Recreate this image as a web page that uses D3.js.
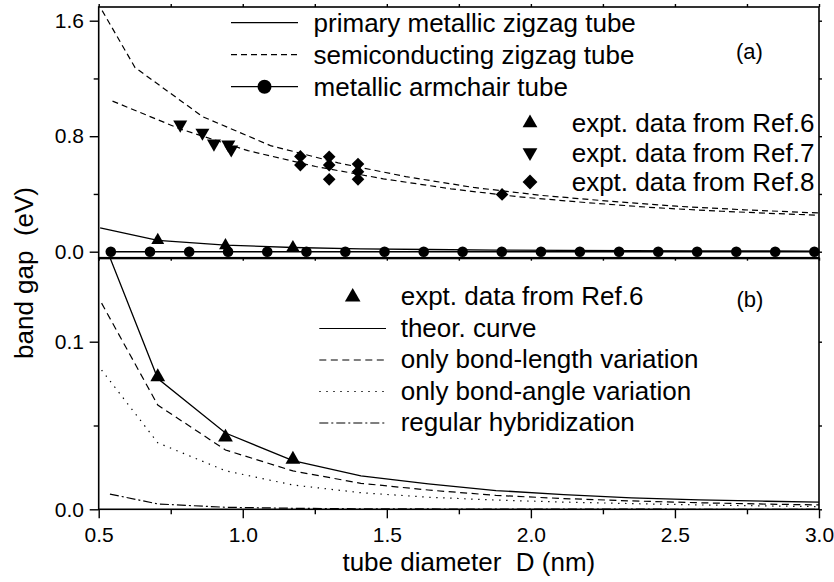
<!DOCTYPE html>
<html>
<head>
<meta charset="utf-8">
<script src="https://cdn.jsdelivr.net/npm/d3@7"></script>
<style>
  body { margin: 0; background: #fff; }
  text { font-family: "Liberation Sans", Arial, Helvetica, sans-serif; fill: #000; }
</style>
</head>
<body>
<script>
// ---- data ----
// (a) metallic armchair tubes, gap = 0
const armchairD = [0.542, 0.678, 0.814, 0.949, 1.085, 1.221, 1.356, 1.492, 1.628, 1.763,
                   1.899, 2.035, 2.170, 2.306, 2.442, 2.577, 2.713, 2.848, 2.984];
const armchairGap = [0, 0, 0, 0, 0, 0, 0, 0, 0, 0, 0, 0, 0, 0, 0, 0, 0, 0, 0];

// (a) semiconducting zigzag tubes, two branches
const semiUpD   = [0.512, 0.626, 0.861, 1.096, 1.331, 1.566, 1.801, 2.036, 2.271, 2.506, 2.741, 3.0];
const semiUpGap = [1.67, 1.276, 0.935, 0.735, 0.615, 0.52, 0.445, 0.39, 0.35, 0.315, 0.29, 0.268];
const semiLowD   = [0.548, 0.783, 1.018, 1.253, 1.488, 1.723, 1.958, 2.193, 2.428, 2.663, 2.898, 3.0];
const semiLowGap = [1.043, 0.85, 0.70, 0.59, 0.505, 0.435, 0.38, 0.34, 0.305, 0.28, 0.26, 0.253];

// experiments
const ref6D   = [0.705, 0.94, 1.174];
const ref6Gap = [0.079, 0.043, 0.0298];
const ref7D   = [0.783, 0.86, 0.90, 0.95, 0.96];
const ref7Gap = [0.88, 0.824, 0.749, 0.742, 0.708];
const ref8D   = [1.2, 1.2, 1.3, 1.3, 1.3, 1.4, 1.4, 1.4, 1.9];
const ref8Gap = [0.66, 0.60, 0.658, 0.60, 0.501, 0.607, 0.554, 0.501, 0.397];

// primary metallic zigzag tubes (theor. curve) and its variants
const theorD   = [0.505, 0.705, 0.94, 1.174, 1.41, 1.644, 1.879, 2.114, 2.349, 2.584, 2.818, 3.0];
const theorGap = [0.165, 0.078, 0.0455, 0.029, 0.0199, 0.0152, 0.0112, 0.0087, 0.0068, 0.0056, 0.0048, 0.0043];
const lengthD   = [0.51, 0.705, 0.94, 1.174, 1.41, 1.644, 1.879, 2.114, 2.349, 2.584, 2.818, 3.0];
const lengthGap = [0.123, 0.0622, 0.0354, 0.0229, 0.0155, 0.0115, 0.0083, 0.0064, 0.005, 0.0039, 0.0031, 0.0026];
const angleD   = [0.51, 0.705, 0.94, 1.174, 1.41, 1.644, 1.879, 2.114, 2.349, 2.584, 2.818, 3.0];
const angleGap = [0.0831, 0.0397, 0.023, 0.0145, 0.0099, 0.0072, 0.0055, 0.0043, 0.0034, 0.0026, 0.002, 0.0016];
const hybD   = [0.539, 0.705, 0.94, 1.174, 1.41, 1.644, 1.879, 2.114, 2.349, 2.584, 2.818, 3.0];
const hybGap = [0.0091, 0.0032, 0.0012, 0.0006, 0.0003, 0.0002, 0.0001, 0.0001, 0.0001, 0, 0, 0];

// ticks
const xTicks = [0.5, 1.0, 1.5, 2.0, 2.5, 3.0];
const xMinor = [0.75, 1.25, 1.75, 2.25, 2.75];
const yTopTicks = [0.0, 0.8, 1.6];
const yTopMinor = [0.4, 1.2];
const yBotTicks = [0.0, 0.1];
const yBotMinor = [0.05];

const legendA1 = ["primary metallic zigzag tube", "semiconducting zigzag tube", "metallic armchair tube"];
const legendA2 = ["expt. data from Ref.6", "expt. data from Ref.7", "expt. data from Ref.8"];
const legendB = ["expt. data from Ref.6", "theor. curve", "only bond-length variation",
                 "only bond-angle variation", "regular hybridization"];

const zip = (xs, ys) => xs.map((d, i) => ({ x: d, y: ys[i] }));

// ---- layout ----
const W = 834, H = 582;
const left = 98.7, right = 819;
const topA = 7, botA = 257.7, botB = 509.3;

const svg = d3.select("body").append("svg")
    .attr("width", W)
    .attr("height", H);

const x = d3.scaleLinear().domain([0.5, 3.0]).range([left, right]);
const yA = d3.scaleLinear().domain([0, 1.6]).range([251.7, 20.7]);
const yB = d3.scaleLinear().domain([0, 0.1]).range([botB, 341.7]);

// clip regions
const defs = svg.append("defs");
defs.append("clipPath").attr("id", "clipA")
  .append("rect").attr("x", left).attr("y", topA).attr("width", right - left).attr("height", botA - topA);
defs.append("clipPath").attr("id", "clipB")
  .append("rect").attr("x", left).attr("y", botA).attr("width", right - left).attr("height", botB - botA);

function drawLine(g, data, yScale, dash, width) {
  const line = d3.line().x(d => x(d.x)).y(d => yScale(d.y));
  g.append("path")
    .datum(data)
    .attr("d", line)
    .attr("fill", "none")
    .attr("stroke", "#000")
    .attr("stroke-width", width || 1.2)
    .attr("stroke-dasharray", dash || null);
}

const tri = s => d3.symbol().type(d3.symbolTriangle).size(s)();
const diamond = s => d3.symbol().type(d3.symbolSquare).size(s)();

function drawMarkers(g, data, yScale, path, rot) {
  g.selectAll(null)
    .data(data)
    .enter()
    .append("path")
    .attr("d", path)
    .attr("transform", d => "translate(" + x(d.x) + "," + yScale(d.y) + ") rotate(" + rot + ")")
    .attr("fill", "#000");
}

// ---- panel (a) ----
const gA = svg.append("g");
const linesA = gA.append("g").attr("clip-path", "url(#clipA)");
drawLine(linesA, zip(semiUpD, semiUpGap), yA, "6,4");
drawLine(linesA, zip(semiLowD, semiLowGap), yA, "6,4");
drawLine(linesA, zip(theorD, theorGap), yA, null, 1.3);
drawLine(linesA, zip(armchairD, armchairGap), yA, null, 1.5);

gA.selectAll("circle.arm")
  .data(zip(armchairD, armchairGap))
  .enter()
  .append("circle")
  .attr("cx", d => x(d.x))
  .attr("cy", d => yA(d.y))
  .attr("r", 5.3)
  .attr("fill", "#000");
drawMarkers(gA, zip(ref6D, ref6Gap), yA, tri(72), 0);
drawMarkers(gA, zip(ref7D, ref7Gap), yA, tri(85), 180);
drawMarkers(gA, zip(ref8D, ref8Gap), yA, diamond(80), 45);

// ---- panel (b) ----
const gB = svg.append("g");
const linesB = gB.append("g").attr("clip-path", "url(#clipB)");
drawLine(linesB, zip(theorD, theorGap), yB, null, 1.3);
drawLine(linesB, zip(lengthD, lengthGap), yB, "7,4.5");
drawLine(linesB, zip(angleD, angleGap), yB, "1.4,5.6");
drawLine(linesB, zip(hybD, hybGap), yB, "9,3,2,3");
drawMarkers(gB, zip(ref6D, ref6Gap), yB, tri(95), 0);

// ---- frames ----
svg.append("rect").attr("x", left).attr("y", topA).attr("width", right - left).attr("height", botA - topA)
  .attr("fill", "none").attr("stroke", "#000").attr("stroke-width", 1.6);
svg.append("rect").attr("x", left).attr("y", botA + 0.8).attr("width", right - left).attr("height", botB - botA - 0.8)
  .attr("fill", "none").attr("stroke", "#000").attr("stroke-width", 1.6);

// ---- axes ----
function styleAxis(g) {
  g.select(".domain").remove();
  g.selectAll("line").attr("stroke-width", 1.4);
  g.selectAll("text").attr("font-size", 21);
}

const fmt = d3.format(".1f");

svg.append("g").attr("transform", "translate(" + left + ",0)")
  .call(d3.axisLeft(yA).tickValues(yTopTicks).tickSize(9).tickPadding(5.7).tickFormat(fmt)).call(styleAxis);
svg.append("g").attr("transform", "translate(" + left + ",0)")
  .call(d3.axisLeft(yA).tickValues(yTopMinor).tickSize(5).tickFormat("")).call(styleAxis);
svg.append("g").attr("transform", "translate(" + right + ",0)")
  .call(d3.axisRight(yA).tickValues(yTopTicks.concat(yTopMinor)).tickSize(3).tickFormat("")).call(styleAxis);

svg.append("g").attr("transform", "translate(" + left + ",0)")
  .call(d3.axisLeft(yB).tickValues(yBotTicks).tickSize(9).tickPadding(5.7).tickFormat(fmt)).call(styleAxis);
svg.append("g").attr("transform", "translate(" + left + ",0)")
  .call(d3.axisLeft(yB).tickValues(yBotMinor).tickSize(5).tickFormat("")).call(styleAxis);
svg.append("g").attr("transform", "translate(" + right + ",0)")
  .call(d3.axisRight(yB).tickValues(yBotTicks.concat(yBotMinor)).tickSize(3).tickFormat("")).call(styleAxis);

svg.append("g").attr("transform", "translate(0," + botB + ")")
  .call(d3.axisBottom(x).tickValues(xTicks).tickSize(9).tickPadding(8.8).tickFormat(fmt)).call(styleAxis);
svg.append("g").attr("transform", "translate(0," + botB + ")")
  .call(d3.axisBottom(x).tickValues(xMinor).tickSize(5).tickFormat("")).call(styleAxis);
svg.append("g").attr("transform", "translate(0," + topA + ")")
  .call(d3.axisTop(x).tickValues(xTicks.concat(xMinor)).tickSize(3).tickFormat("")).call(styleAxis);
svg.append("g").attr("transform", "translate(0," + botA + ")")
  .call(d3.axisBottom(x).tickValues(xTicks.concat(xMinor)).tickSize(3).tickFormat("")).call(styleAxis);

// axis titles
svg.append("text")
  .attr("transform", "translate(33," + 273 + ") rotate(-90)")
  .attr("text-anchor", "middle")
  .attr("font-size", 26)
  .attr("xml:space", "preserve")
  .text("band gap  (eV)");

svg.append("text")
  .attr("x", (left + right) / 2 + 10)
  .attr("y", 571)
  .attr("text-anchor", "middle")
  .attr("font-size", 26)
  .attr("xml:space", "preserve")
  .text("tube diameter  D (nm)");

// ---- legends ----
const fs = 26;
// (a) left block: lines
const legA = svg.append("g");
const dashesA = [null, "6,4", null];
legendA1.forEach((t, i) => {
  const cy = 22.7 + i * 32;
  legA.append("line").attr("x1", 231).attr("x2", 298).attr("y1", cy).attr("y2", cy)
    .attr("stroke", "#000").attr("stroke-width", 1.3).attr("stroke-dasharray", dashesA[i]);
  if (i === 2) {
    legA.append("circle").attr("cx", 264.5).attr("cy", cy).attr("r", 7).attr("fill", "#000");
  }
  legA.append("text").attr("x", 313.6).attr("y", cy + 9).attr("font-size", fs).text(t);
});

// (a) right block: markers
const markA = [[tri(95), 0], [tri(95), 180], [diamond(110), 45]];
legendA2.forEach((t, i) => {
  const cy = 123 + i * 29.5;
  legA.append("path").attr("d", markA[i][0])
    .attr("transform", "translate(530," + cy + ") rotate(" + markA[i][1] + ")")
    .attr("fill", "#000");
  legA.append("text").attr("x", 571.7).attr("y", cy + 9).attr("font-size", fs).text(t);
});

svg.append("text").attr("x", 736).attr("y", 58.7).attr("font-size", 22).text("(a)");
svg.append("text").attr("x", 736.5).attr("y", 307).attr("font-size", 22).text("(b)");

// (b) legend
const legB = svg.append("g");
const dashesB = [null, null, "7,4.5", "1.4,5.6", "9,3,2,3"];
legendB.forEach((t, i) => {
  const cy = 297 + i * 31.5;
  if (i === 0) {
    legB.append("path").attr("d", tri(105))
      .attr("transform", "translate(352.7," + cy + ")")
      .attr("fill", "#000");
  } else {
    legB.append("line").attr("x1", 319.3).attr("x2", 386).attr("y1", cy).attr("y2", cy)
      .attr("stroke", "#000").attr("stroke-width", 1.2).attr("stroke-dasharray", dashesB[i]);
  }
  legB.append("text").attr("x", 400.7).attr("y", cy + 8).attr("font-size", fs).text(t);
});
</script>
</body>
</html>
